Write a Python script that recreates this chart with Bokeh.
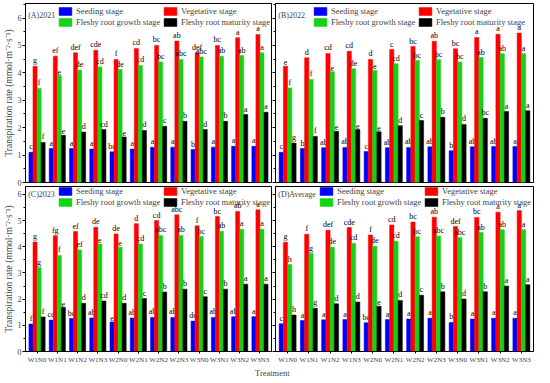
from bokeh.plotting import figure
from bokeh.models import (FactorRange, Range1d, Legend, LegendItem, Label,
                          SingleIntervalTicker, ColumnDataSource)
from bokeh.transform import dodge
from bokeh.layouts import column, row
from bokeh.embed import file_html
from bokeh.resources import INLINE
from bokeh.core.properties import value

treatments = ["W1N0", "W1N1", "W1N2", "W1N3", "W2N0", "W2N1",
              "W2N2", "W2N3", "W3N0", "W3N1", "W3N2", "W3N3"]
stages = ["Seeding stage", "Vegetative stage",
          "Fleshy root growth stage", "Fleshy root maturity stage"]
colors = ["#0000FF", "#FF0000", "#14D214", "#000000"]

# (A) 2021
seed_2021 = [1.10, 1.24, 1.24, 1.22, 1.12, 1.22, 1.29, 1.29, 1.20, 1.29, 1.32, 1.32]
veg_2021 = [4.24, 4.61, 4.73, 4.82, 4.49, 4.89, 5.00, 5.16, 4.73, 5.00, 5.28, 5.40]
grow_2021 = [3.43, 3.90, 4.10, 4.21, 4.12, 4.27, 4.40, 4.49, 4.58, 4.61, 4.63, 4.73]
mat_2021 = [1.46, 1.72, 1.84, 1.93, 1.66, 1.90, 2.05, 2.23, 1.93, 2.23, 2.48, 2.56]
seed_2021_sig = ["c", "a", "a", "a", "bc", "a", "a", "a", "b", "a", "a", "a"]
veg_2021_sig = ["g", "ef", "def", "cde", "f", "cd", "bc", "ab", "def", "bc", "a", "a"]
grow_2021_sig = ["f", "e", "de", "cd", "de", "cd", "bc", "abc", "abc", "ab", "ab", "a"]
mat_2021_sig = ["f", "e", "d", "cd", "e", "d", "c", "b", "d", "b", "a", "a"]

# (B) 2022
seed_2022 = [1.10, 1.24, 1.27, 1.28, 1.13, 1.27, 1.28, 1.30, 1.16, 1.30, 1.31, 1.31]
veg_2022 = [4.24, 4.55, 4.71, 4.79, 4.49, 4.85, 4.96, 5.15, 4.88, 5.29, 5.41, 5.45]
grow_2022 = [3.45, 3.76, 4.04, 4.15, 4.09, 4.33, 4.45, 4.48, 4.40, 4.56, 4.70, 4.70]
mat_2022 = [1.44, 1.68, 1.87, 1.93, 1.85, 2.07, 2.26, 2.38, 2.12, 2.34, 2.59, 2.62]
seed_2022_sig = ["c", "b", "ab", "ab", "c", "ab", "ab", "ab", "b", "ab", "ab", "a"]
veg_2022_sig = ["e", "d", "cd", "cd", "d", "c", "bc", "ab", "bc", "a", "a", "a"]
grow_2022_sig = ["f", "f", "e", "de", "e", "cd", "bc", "bc", "bc", "ab", "ab", "a"]
mat_2022_sig = ["g", "f", "e", "e", "e", "d", "c", "b", "d", "bc", "a", "a"]

# (C) 2023
seed_2023 = [1.05, 1.20, 1.26, 1.28, 1.13, 1.28, 1.30, 1.30, 1.16, 1.30, 1.33, 1.33]
veg_2023 = [4.18, 4.42, 4.58, 4.74, 4.49, 4.88, 5.00, 5.22, 4.80, 5.15, 5.35, 5.41]
grow_2023 = [3.20, 3.67, 3.88, 4.10, 3.98, 4.10, 4.43, 4.43, 4.39, 4.59, 4.67, 4.67]
mat_2023 = [1.32, 1.68, 1.84, 1.93, 1.84, 2.02, 2.27, 2.38, 2.09, 2.38, 2.57, 2.57]
seed_2023_sig = ["f", "cd", "bc", "ab", "e", "ab", "ab", "ab", "de", "ab", "ab", "a"]
veg_2023_sig = ["g", "fg", "ef", "de", "de", "d", "cd", "abc", "f", "bc", "ab", "a"]
grow_2023_sig = ["g", "f", "ef", "e", "e", "cd", "abc", "ab", "bc", "ab", "a", "a"]
mat_2023_sig = ["f", "e", "d", "cd", "d", "c", "b", "b", "c", "b", "a", "a"]

# (D) Average
seed_avg = [1.06, 1.18, 1.21, 1.22, 1.10, 1.22, 1.24, 1.27, 1.11, 1.24, 1.27, 1.27]
veg_avg = [4.17, 4.48, 4.63, 4.73, 4.45, 4.83, 4.94, 5.13, 4.77, 5.12, 5.32, 5.38]
grow_avg = [3.32, 3.74, 3.98, 4.13, 4.02, 4.21, 4.38, 4.41, 4.35, 4.54, 4.65, 4.65]
mat_avg = [1.39, 1.65, 1.82, 1.89, 1.73, 1.95, 2.15, 2.28, 2.00, 2.28, 2.50, 2.55]
seed_avg_sig = ["c", "a", "a", "a", "bc", "a", "a", "a", "b", "a", "a", "a"]
veg_avg_sig = ["g", "f", "def", "cde", "f", "cd", "bc", "ab", "def", "bc", "a", "a"]
grow_avg_sig = ["h", "g", "de", "cd", "de", "cd", "bc", "abc", "abc", "ab", "ab", "a"]
mat_avg_sig = ["h", "g", "d", "d", "e", "d", "c", "b", "d", "b", "a", "a"]

SERIF = "Liberation Serif"
offsets = [-0.3, -0.1, 0.1, 0.3]


def panel(tag, series, sigs, left, bottom, width, height, mb, ymax,
          legend_x, legend_top, tag_dy):
    fh = height - mb[0] - mb[2]
    p = figure(x_range=FactorRange(factors=treatments, range_padding=0.07,
                                   range_padding_units="absolute"),
               y_range=Range1d(0, ymax), width=width, height=height,
               output_backend="svg", toolbar_location=None,
               min_border_top=mb[0], min_border_right=mb[1],
               min_border_bottom=mb[2], min_border_left=mb[3])
    p.xgrid.visible = False
    p.ygrid.visible = False
    p.outline_line_color = "black"
    p.outline_line_alpha = 1.0
    p.background_fill_color = "white"
    p.border_fill_color = "white"

    rends = []
    for i in range(4):
        src = ColumnDataSource(dict(x=treatments, y=series[i], t=sigs[i]))
        r = p.vbar(x=dodge("x", offsets[i], range=p.x_range), top="y", width=0.2,
                   source=src, fill_color=colors[i], line_color=colors[i],
                   line_width=0.5)
        rends.append(r)
        p.text(x=dodge("x", offsets[i], range=p.x_range), y="y", text="t", source=src,
               text_font=value(SERIF), text_font_size="8px", text_color="black",
               text_align="center", text_baseline="bottom", y_offset=-1)

    yax = p.yaxis[0]
    yax.ticker = SingleIntervalTicker(interval=1, num_minor_ticks=2)
    yax.major_tick_out = 3
    yax.major_tick_in = 0
    yax.minor_tick_out = 2
    yax.minor_tick_in = 0
    yax.axis_line_color = "black"
    yax.major_label_text_font = SERIF
    if left:
        yax.major_label_text_font_size = "8px"
        yax.major_label_standoff = 1
        yax.axis_label = "Transpiration rate (mmol·m⁻²·s⁻¹)"
        yax.axis_label_text_font = SERIF
        yax.axis_label_text_font_size = "9.5px"
        yax.axis_label_text_font_style = "normal"
        yax.axis_label_standoff = 1
    else:
        yax.major_label_text_font_size = "1px"
        yax.major_label_text_color = None
        yax.major_label_standoff = 0

    xax = p.xaxis[0]
    if bottom:
        xax.major_label_text_font = SERIF
        xax.major_label_text_font_size = "7px"
        xax.major_label_standoff = 2
        xax.major_tick_out = 2
        xax.major_tick_in = 0
        xax.axis_line_color = "black"
    else:
        xax.visible = False

    order = [0, 2, 1, 3]
    legend = Legend(items=[LegendItem(label=stages[k], renderers=[rends[k]]) for k in order],
                    ncols=2, location=(legend_x, fh - legend_top - 21),
                    glyph_width=16, glyph_height=10, label_height=10, label_width=85,
                    label_standoff=3, spacing=1, padding=0, margin=0,
                    label_text_font=SERIF, label_text_font_size="8.5px",
                    border_line_color=None, background_fill_alpha=0)
    p.add_layout(legend)

    unit = fh / ymax
    p.add_layout(Label(x=0.06, y=ymax - tag_dy / unit, text=tag,
                       text_font=SERIF, text_font_size="8px",
                       text_baseline="middle", text_align="left"))
    return p


pA = panel("(A)2021", [seed_2021, veg_2021, grow_2021, mat_2021],
           [seed_2021_sig, veg_2021_sig, grow_2021_sig, mat_2021_sig],
           True, False, 272, 186, (3, 1, 4, 19), 6.53, 32, 3, 12)
pB = panel("(B)2022", [seed_2022, veg_2022, grow_2022, mat_2022],
           [seed_2022_sig, veg_2022_sig, grow_2022_sig, mat_2022_sig],
           False, False, 262, 186, (3, 1, 4, 3), 6.53, 37, 3, 12)
pC = panel("(C)2023", [seed_2023, veg_2023, grow_2023, mat_2023],
           [seed_2023_sig, veg_2023_sig, grow_2023_sig, mat_2023_sig],
           True, True, 272, 180, (0, 1, 14, 19), 6.3, 32, 1, 8)
pD = panel("(D)Average", [seed_avg, veg_avg, grow_avg, mat_avg],
           [seed_avg_sig, veg_avg_sig, grow_avg_sig, mat_avg_sig],
           False, True, 262, 180, (0, 1, 14, 3), 6.3, 43, 1, 8)

pT = figure(width=534, height=11, x_range=(0, 1), y_range=(0, 1),
            output_backend="svg", toolbar_location=None, min_border=0)
pT.axis.visible = False
pT.grid.visible = False
pT.outline_line_color = None
pT.add_layout(Label(x=0.509, y=0.5, text="Treatment", text_font=SERIF,
                    text_font_size="8.5px", text_align="center", text_baseline="middle"))

layout = column(row(pA, pB, spacing=0), row(pC, pD, spacing=0), pT, spacing=0)

with open("out.html", "w") as f:
    f.write(file_html(layout, INLINE))
